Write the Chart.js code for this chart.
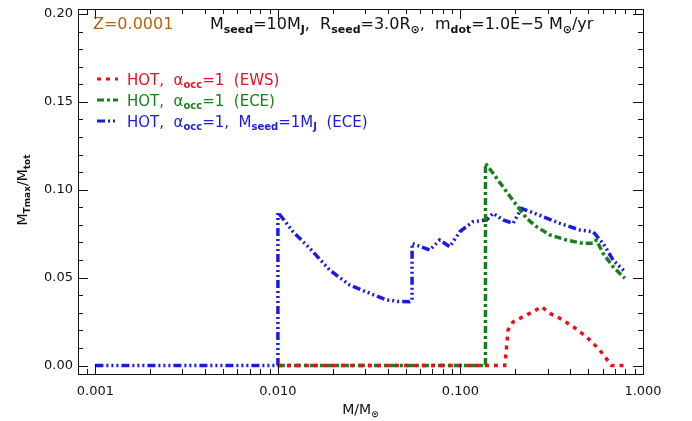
<!DOCTYPE html>
<html>
<head>
<meta charset="utf-8">
<script src="https://cdn.jsdelivr.net/npm/chart.js@4.4.0/dist/chart.umd.min.js"></script>
<style>
  html, body { margin: 0; background: #fff; }
</style>
</head>
<body>
<canvas id="chart" width="692" height="421"></canvas>
<script>
// tick labels
const xTickValues = [0.001, 0.01, 0.1, 1];
const yTickValues = [0, 0.05, 0.1, 0.15, 0.2];

// HOT, alpha_occ=1 (EWS)
const ewsMass = [0.01, 0.1749, 0.178, 0.1823, 0.1942, 0.2203, 0.2499, 0.2779, 0.3085, 0.35, 0.414, 0.4902, 0.58, 0.672, 0.795];
const ewsFrac = [0, 0, 0.008, 0.0202, 0.0249, 0.0278, 0.0306, 0.0335, 0.0297, 0.0269, 0.0221, 0.0164, 0.0088, 0, 0];

// HOT, alpha_occ=1 (ECE)
const eceMass = [0.01, 0.1371, 0.1371, 0.1509, 0.1787, 0.2027, 0.2299, 0.2609, 0.3085, 0.3809, 0.4697, 0.5328, 0.5563, 0.6046, 0.6859, 0.795];
const eceFrac = [0, 0, 0.115, 0.1094, 0.0989, 0.0913, 0.0838, 0.079, 0.0743, 0.0714, 0.0695, 0.0695, 0.0714, 0.0638, 0.0562, 0.0496];

// HOT, alpha_occ=1, Mseed=1MJ (ECE)
const seedMass = [0.001, 0.01, 0.01, 0.0121, 0.01494, 0.01922, 0.02474, 0.03184, 0.03932, 0.04600, 0.05276, 0.05431, 0.05431, 0.0679, 0.077, 0.0874, 0.0991, 0.1172, 0.1389, 0.1509, 0.1711, 0.1942, 0.2159, 0.2836, 0.35, 0.4505, 0.5328, 0.6046, 0.6859, 0.795];
const seedFrac = [0, 0, 0.0872, 0.0761, 0.0667, 0.0543, 0.0458, 0.0411, 0.0373, 0.0365, 0.0363, 0.037, 0.0695, 0.0657, 0.0714, 0.0676, 0.0761, 0.0818, 0.0828, 0.0866, 0.0828, 0.0809, 0.0894, 0.0847, 0.0809, 0.0771, 0.0761, 0.0695, 0.06, 0.0534];

const RED = "#e8101a";
const GREEN = "#17801a";
const BLUE = "#1a1ae6";
const BROWN = "#b8620f";
const FONT = "'DejaVu Sans', 'Liberation Sans', sans-serif";

const dashRed = [4, 5];
const dashGreen = [7, 3, 3, 3];
const dashBlue = [8, 3, 2, 3, 2, 3, 2, 3];

const toPoints = (xs, ys) => xs.map((x, i) => ({ x, y: ys[i] }));

// text with subscripts: parts = [[text, isSub], ...]
function drawRich(ctx, x, y, parts, size, color, align) {
  const subSize = Math.round(size * 0.66);
  const fontFor = sub => (sub ? "bold " + subSize : size) + "px " + FONT;
  let total = 0;
  parts.forEach(([t, sub]) => {
    ctx.font = fontFor(sub);
    total += ctx.measureText(t).width;
  });
  let cx = align === "center" ? x - total / 2 : x;
  ctx.fillStyle = color;
  ctx.textAlign = "left";
  ctx.textBaseline = "alphabetic";
  parts.forEach(([t, sub]) => {
    ctx.font = fontFor(sub);
    ctx.fillText(t, cx, sub ? y + size * 0.22 : y);
    cx += ctx.measureText(t).width;
  });
}

const frame = {
  id: "frame",
  afterDraw(chart) {
    const { ctx, chartArea: a, scales } = chart;
    const xs = scales.x, ys = scales.y;
    ctx.save();
    ctx.strokeStyle = "#111";
    ctx.lineWidth = 1;
    ctx.setLineDash([]);
    ctx.strokeRect(a.left + 0.5, a.top + 0.5, a.right - a.left, a.bottom - a.top);

    ctx.beginPath();
    for (let d = -4; d <= 0; d++) {
      for (let m = 1; m <= 9; m++) {
        const v = m * Math.pow(10, d);
        if (v < xs.min || v > xs.max) continue;
        const px = Math.round(xs.getPixelForValue(v)) + 0.5;
        const len = m === 1 ? 10 : 5;
        ctx.moveTo(px, a.bottom); ctx.lineTo(px, a.bottom - len);
        ctx.moveTo(px, a.top); ctx.lineTo(px, a.top + len);
      }
    }
    for (let i = 0; i <= 20; i++) {
      const v = i * 0.01;
      const py = Math.round(ys.getPixelForValue(v)) + 0.5;
      const len = i % 5 === 0 ? 10 : 5;
      ctx.moveTo(a.left, py); ctx.lineTo(a.left + len, py);
      ctx.moveTo(a.right, py); ctx.lineTo(a.right - len, py);
    }
    ctx.stroke();

    // axis titles
    drawRich(ctx, (a.left + a.right) / 2, 414, [["M/M", false], ["\u2299", true]], 14, "#111", "center");
    ctx.save();
    ctx.translate(27, 190);
    ctx.rotate(-Math.PI / 2);
    drawRich(ctx, 0, 0, [["M", false], ["Tmax", true], ["/M", false], ["tot", true]], 14, "#111", "center");
    ctx.restore();

    // header
    drawRich(ctx, 93, 29, [["Z=0.0001", false]], 16, BROWN, "left");
    drawRich(ctx, 210, 29, [
      ["M", false], ["seed", true], ["=10M", false], ["J", true], [",  R", false], ["seed", true],
      ["=3.0R", false], ["\u2299", true], [",  m", false], ["dot", true], ["=1.0E\u22125 M", false],
      ["\u2299", true], ["/yr", false]
    ], 16, "#111", "left");

    // legend
    const rows = [
      { y: 79, color: RED, dash: dashRed, parts: [["HOT,  ", false], ["\u03b1", false], ["occ", true], ["=1  (EWS)", false]] },
      { y: 100, color: GREEN, dash: dashGreen, parts: [["HOT,  ", false], ["\u03b1", false], ["occ", true], ["=1  (ECE)", false]] },
      { y: 121, color: BLUE, dash: dashBlue, parts: [["HOT,  ", false], ["\u03b1", false], ["occ", true], ["=1,  M", false], ["seed", true], ["=1M", false], ["J", true], ["  (ECE)", false]] }
    ];
    rows.forEach(r => {
      ctx.strokeStyle = r.color;
      ctx.lineWidth = 3;
      ctx.setLineDash(r.dash);
      ctx.beginPath();
      ctx.moveTo(97, r.y); ctx.lineTo(118, r.y);
      ctx.stroke();
      ctx.setLineDash([]);
      drawRich(ctx, 127, r.y + 5.5, r.parts, 15, r.color, "left");
    });
    ctx.restore();
  }
};

new Chart(document.getElementById("chart"), {
  type: "scatter",
  data: {
    datasets: [
      { label: "EWS", data: toPoints(ewsMass, ewsFrac), borderColor: RED, borderDash: dashRed },
      { label: "ECE", data: toPoints(eceMass, eceFrac), borderColor: GREEN, borderDash: dashGreen },
      { label: "Mseed=1MJ", data: toPoints(seedMass, seedFrac), borderColor: BLUE, borderDash: dashBlue }
    ].map(d => Object.assign(d, { showLine: true, pointRadius: 0, borderWidth: 3.5, tension: 0, fill: false }))
  },
  options: {
    responsive: false,
    animation: false,
    layout: { padding: { top: 9, right: 49, left: 0, bottom: 0 } },
    plugins: { legend: { display: false }, tooltip: { enabled: false } },
    scales: {
      x: {
        type: "logarithmic",
        min: 0.000803,
        max: 1.0,
        grid: { display: false, drawTicks: false },
        border: { display: false },
        afterBuildTicks: s => { s.ticks = xTickValues.map(v => ({ value: v })); },
        afterFit: s => { s.height = 47; s.paddingLeft = 0; s.paddingRight = 0; },
        ticks: {
          padding: 10,
          color: "#111",
          font: { family: FONT, size: 13 },
          maxRotation: 0,
          callback: v => Number(v).toFixed(3)
        }
      },
      y: {
        min: -0.0048,
        max: 0.2028,
        grid: { display: false, drawTicks: false },
        border: { display: false },
        afterBuildTicks: s => { s.ticks = yTickValues.map(v => ({ value: v })); },
        afterFit: s => { s.width = 78; s.paddingTop = 0; s.paddingBottom = 0; },
        ticks: {
          padding: 5,
          color: "#111",
          font: { family: FONT, size: 13 },
          callback: v => Number(v).toFixed(2)
        }
      }
    }
  },
  plugins: [frame]
});
</script>
</body>
</html>
